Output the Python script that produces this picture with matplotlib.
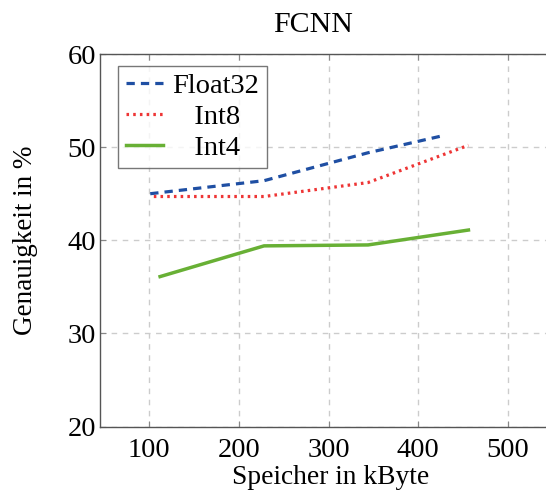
import matplotlib
matplotlib.use("Agg")
import matplotlib.pyplot as plt

plt.rcParams['font.family'] = ['Liberation Serif', 'DejaVu Serif']
plt.rcParams['mathtext.fontset'] = 'stix'

title = "FCNN"
xlabel = "Speicher in kByte"
ylabel = "Genauigkeit in %"

float32_x = [101, 228, 344, 426]
float32_y = [45.0, 46.4, 49.4, 51.2]
int8_x = [105, 228, 344, 456]
int8_y = [44.7, 44.7, 46.2, 50.2]
int4_x = [112, 228, 344, 456]
int4_y = [36.1, 39.4, 39.5, 41.1]

xticks = [100, 200, 300, 400, 500]
yticks = [20, 30, 40, 50, 60]

FS = 20.5

fig = plt.figure(figsize=(5.46, 4.94), dpi=100)
ax = fig.add_axes([0.1832, 0.1366, 0.8455, 0.754])

ax.plot(float32_x, float32_y, color='#1f4fa3', lw=2.3, dashes=(2.6, 1.9),
        label='Float32', solid_capstyle='butt', dash_capstyle='butt')
ax.plot(int8_x, int8_y, color='#ee3535', lw=2.3, dashes=(0.8, 1.3),
        label='   Int8', dash_capstyle='butt')
ax.plot(int4_x, int4_y, color='#68b035', lw=2.5, label='   Int4')

ax.set_xlim(45, 560)
ax.set_ylim(20, 60)
ax.set_xticks(xticks)
ax.set_yticks(yticks)
ax.tick_params(labelsize=FS, direction='in', length=4, color='#888888',
               top=True, right=True)
ax.tick_params(axis='x', pad=8)
ax.tick_params(axis='y', pad=3)
ax.grid(True, color='#cccccc', lw=1.0, dashes=(4, 4))
for s in ax.spines.values():
    s.set_color('#555555')
    s.set_linewidth(1.0)

ax.set_title(title, fontsize=21.5, pad=16, x=0.462)
ax.set_xlabel(xlabel, fontsize=19.8, labelpad=2)
ax.set_ylabel(ylabel, fontsize=19.5, labelpad=21)

leg = ax.legend(loc='upper left', bbox_to_anchor=(0.04, 0.967), fontsize=FS,
                frameon=True, fancybox=False, edgecolor='#555555',
                handlelength=1.3, handletextpad=0.35, borderpad=0.25,
                labelspacing=0.17, borderaxespad=0)
leg.get_frame().set_linewidth(1.0)

fig.savefig('out.png', dpi=100)
